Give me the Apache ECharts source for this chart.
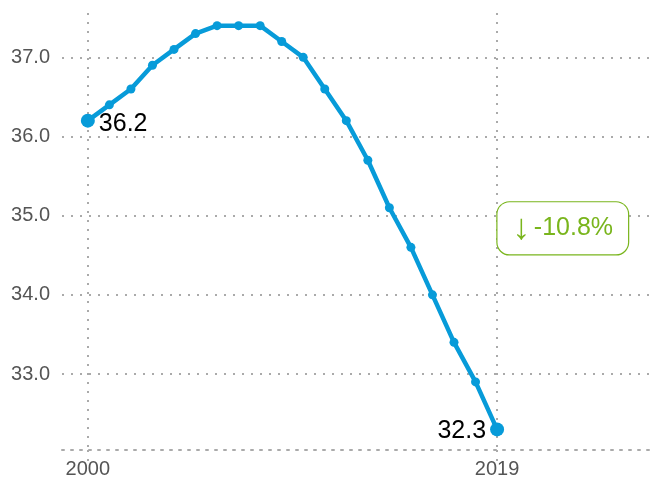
<!DOCTYPE html>
<html>
<head>
<meta charset="utf-8">
<script src="https://cdn.jsdelivr.net/npm/echarts@6/dist/echarts.min.js"></script>
<style>
  html, body { margin: 0; padding: 0; background: #fff; }
  #chart { width: 650px; height: 479px; }
</style>
</head>
<body>
<div id="chart"></div>
<script>
// data
const years = [2000, 2001, 2002, 2003, 2004, 2005, 2006, 2007, 2008, 2009,
               2010, 2011, 2012, 2013, 2014, 2015, 2016, 2017, 2018, 2019];
const values = [36.2, 36.4, 36.6, 36.9, 37.1, 37.3, 37.4, 37.4, 37.4, 37.2,
                37.0, 36.6, 36.2, 35.7, 35.1, 34.6, 34.0, 33.4, 32.9, 32.3];
const xTicks = [2000, 2019];
const yTicks = [33, 34, 35, 36, 37];
const changeArrow = '↓';
const changeText = '-10.8%';

const blue = '#079bd9';
const green = '#79b51c';
const dotted = { color: '#aaa', width: 2, type: [2, 7] };

const chart = echarts.init(document.getElementById('chart'));

const points = years.map((y, i) => {
    const last = i === years.length - 1;
    const first = i === 0;
    const p = { value: [y, values[i]] };
    if (first || last) {
        p.symbolSize = 14;
        p.label = {
            show: true,
            position: first ? 'right' : 'left',
            formatter: values[i].toFixed(1),
            color: '#000',
            fontSize: 25,
            offset: first ? [-1, 3] : [1, 2]
        };
    }
    return p;
});

chart.setOption({
    animation: false,
    textStyle: { fontFamily: 'Liberation Sans, Arial, sans-serif' },
    grid: { left: 62, right: 0, top: 13, bottom: 29, containLabel: false },
    xAxis: {
        type: 'value',
        min: 1998.8,
        max: 2026.1,
        axisLine: { show: true, lineStyle: dotted },
        axisTick: { show: true, customValues: xTicks, length: 15, lineStyle: dotted },
        axisLabel: {
            customValues: xTicks,
            formatter: v => String(v),
            color: '#555', fontSize: 20, margin: 9
        },
        splitLine: { show: true, lineStyle: dotted }
    },
    yAxis: {
        type: 'value',
        min: 32.04,
        max: 37.56,
        axisLine: { show: false },
        axisTick: { show: false, customValues: yTicks },
        axisLabel: {
            customValues: yTicks,
            formatter: v => v.toFixed(1),
            color: '#555', fontSize: 20, margin: 12
        },
        splitLine: { show: true, lineStyle: dotted }
    },
    series: [{
        type: 'line',
        data: points,
        symbol: 'circle',
        symbolSize: 9,
        lineStyle: { color: blue, width: 4.5 },
        itemStyle: { color: blue },
        markPoint: {
            symbol: 'circle',
            symbolSize: 0,
            data: [{ coord: [2022.05, 34.84] }],
            label: {
                show: true,
                position: 'inside',
                formatter: '{a|' + changeArrow + '} {t|' + changeText + '}',
                color: green,
                borderColor: green,
                borderWidth: 1.2,
                borderRadius: 12,
                padding: [11, 15, 11, 15],
                backgroundColor: '#fff',
                rich: {
                    a: { fontSize: 36, color: green, lineHeight: 30, padding: [2, 0, 0, 0] },
                    t: { fontSize: 25, color: green, lineHeight: 30 }
                }
            }
        }
    }]
});
</script>
</body>
</html>
